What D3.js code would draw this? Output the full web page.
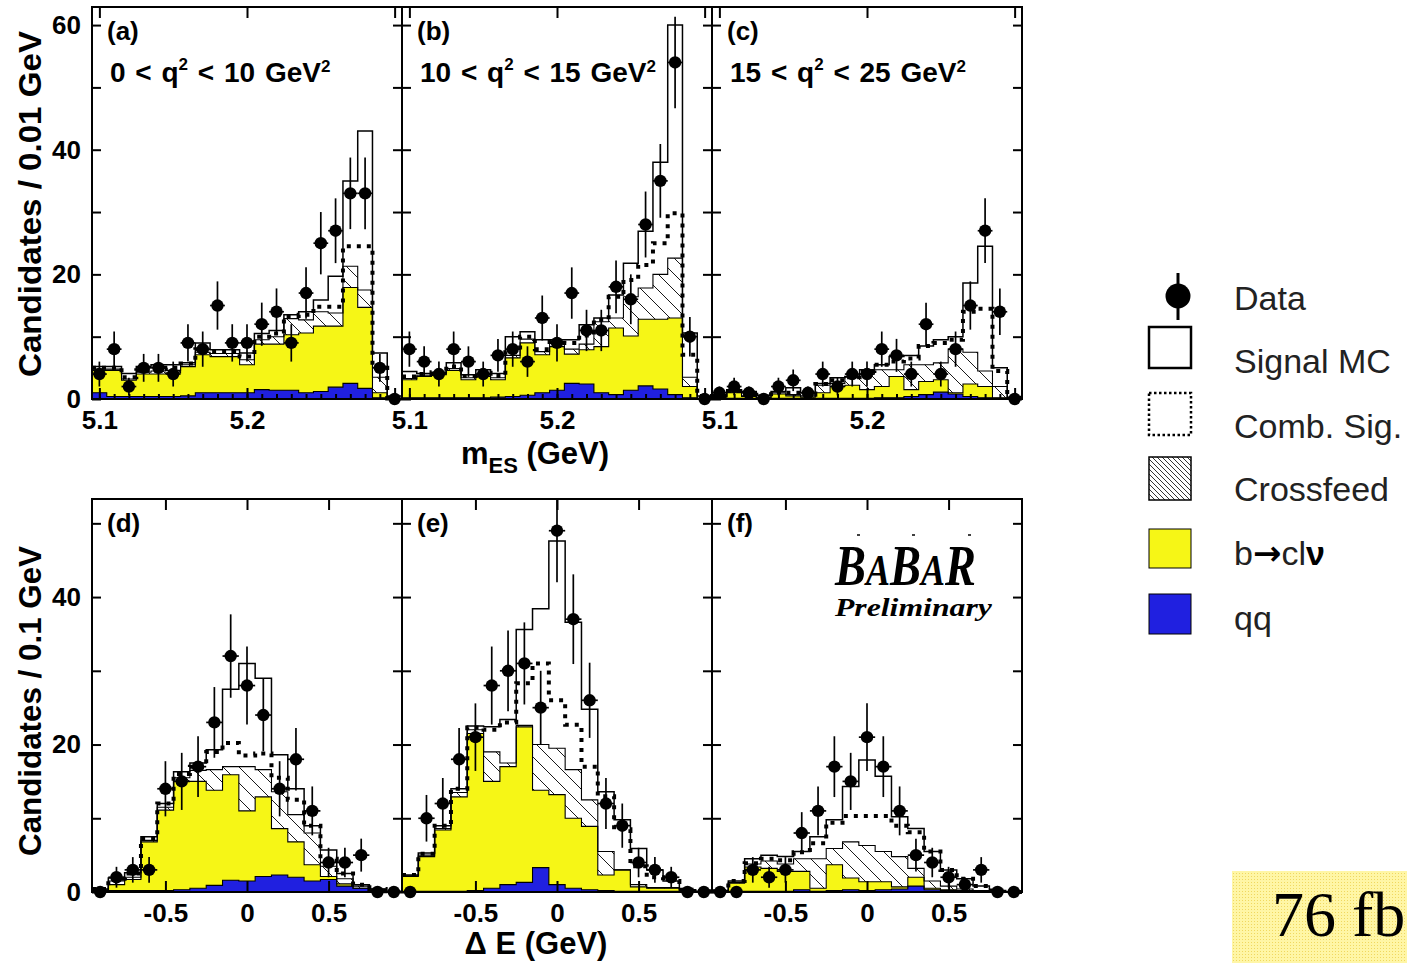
<!DOCTYPE html>
<html>
<head>
<meta charset="utf-8">
<script src="https://cdn.jsdelivr.net/npm/d3@7/dist/d3.min.js"></script>
<style>
body { margin: 0; background: #fff; }
svg { font-family: "Liberation Sans", Arial, Helvetica, sans-serif; }
</style>
</head>
<body>
<svg id="chart" width="1407" height="963"></svg>
<script>
// bin centres
var mesBins = [5.10, 5.11, 5.12, 5.13, 5.14, 5.15, 5.16, 5.17, 5.18, 5.19, 5.20, 5.21, 5.22, 5.23, 5.24, 5.25, 5.26, 5.27, 5.28, 5.29, 5.30];
var deBins = [-0.9, -0.8, -0.7, -0.6, -0.5, -0.4, -0.3, -0.2, -0.1, 0, 0.1, 0.2, 0.3, 0.4, 0.5, 0.6, 0.7, 0.8, 0.9];

var mesTicks = [5.1, 5.2, 5.3];
var deTicks = [-0.5, 0, 0.5];
var yTicksTop = [0, 10, 20, 30, 40, 50, 60];
var yTicksBot = [0, 10, 20, 30, 40, 50];

// (a) 0 < q2 < 10
var dataA = [4, 8, 2, 5, 5, 4, 9, 8, 15, 9, 9, 12, 14, 9, 17, 25, 27, 33, 33, 5, 0];
var qqA = [1.0, 0.4, 0.4, 0.4, 0.4, 0.4, 0.5, 1.0, 1.0, 1.0, 1.0, 1.5, 1.4, 1.4, 1.0, 1.2, 1.9, 2.5, 1.7, 0.2, 0];
var bclnuA = [3.6, 4.2, 2.6, 3.6, 3.6, 3.8, 4.7, 6.1, 5.8, 5.8, 4.5, 7.3, 7.4, 8.9, 9.6, 10.5, 9.8, 15.4, 13.0, 0.8, 0];
var crossA = [0.2, 0.2, 0.2, 0.3, 0.5, 0.4, 0.3, 0.4, 0.5, 0.5, 0.8, 0.7, 1.2, 2.6, 2.1, 2.3, 2.1, 3.4, 2.8, 2.5, 0];
var combA = [0.2, 0.2, 0.3, 0.3, 0.3, 0.4, 0.2, 0.5, 0.3, 0.3, 0.5, 0.5, 0.5, 0.4, 0.8, 0.8, 1.0, 3.2, 7.0, 1.5, 0.1];
var signalA = [0.2, 0.2, 0.6, 0.6, 0.7, 0.5, 0.1, 1.0, 0.3, 0.3, 0.6, 0.5, 0.5, 0.2, 0.5, 1.1, 4.9, 10.5, 18.5, 2.4, 0.4];

// (b) 10 < q2 < 15
var dataB = [8, 6, 4, 8, 6, 4, 7, 8, 6, 13, 9, 17, 11, 11, 18, 16, 28, 35, 54, 10, 0];
var qqB = [0.2, 0.2, 0.2, 0.2, 0.2, 0.2, 0.3, 0.4, 0.6, 1.0, 1.4, 2.5, 2.4, 1.0, 0.7, 1.4, 2.1, 1.6, 0.7, 0.2, 0];
var bclnuB = [2.9, 3.4, 3.7, 4.4, 2.9, 3.4, 2.8, 6.2, 8.4, 6.1, 7.0, 4.7, 5.5, 7.4, 10.7, 8.7, 10.7, 11.2, 12.3, 1.8, 0];
var crossB = [0.2, 0.2, 0.2, 0.3, 0.3, 0.3, 0.3, 0.4, 0.6, 0.5, 0.6, 0.8, 0.9, 4.0, 1.6, 6.3, 5.0, 7.2, 9.6, 1.5, 0];
var combB = [0.3, 0.2, 0.2, 0.3, 0.3, 0.3, 0.3, 0.5, 0.4, 0.4, 0.5, 1.0, 1.4, 0.3, 3.4, 2.7, 3.7, 5.0, 7.2, 3.6, 0.5];
var signalB = [0.8, 0.1, 0, 0.6, 0.2, 0.5, 0.4, 2.5, 0.8, 1.5, 0, 0.5, 1.7, 0.3, 0.3, 2.7, 5.4, 13.0, 30.2, 3.5, 0];

// (c) 15 < q2 < 25
var dataC = [1, 2, 1, 0, 2, 3, 1, 4, 2, 4, 4, 8, 7, 4, 12, 4, 8, 15, 27, 14, 0];
var qqC = [0.1, 0.1, 0.1, 0.1, 0.1, 0.1, 0.1, 0.1, 0.1, 0.1, 0.1, 0.2, 0.2, 0.4, 0.7, 1.1, 0.8, 0.4, 0.2, 0.1, 0];
var bclnuC = [0.2, 0.9, 0.3, 0.1, 0.7, 0.4, 0.2, 0.9, 1.9, 2.1, 1.4, 1.8, 3.4, 1.1, 2.1, 2.0, 0.2, 2.0, 1.8, 0.1, 0];
var crossC = [0.1, 0.1, 0.1, 0.1, 0.2, 0.2, 0.2, 1.2, 0.5, 1.3, 2.5, 2.7, 1.1, 4.0, 2.7, 2.7, 7.0, 5.1, 2.5, 1.8, 0];
var combC = [0.1, 0.2, 0.2, 0.1, 0.1, 0.3, 0.2, 0.2, 0.5, 0, 0.5, 0.8, 1.3, 1.0, 3.0, 3.2, 1.5, 6.5, 10.0, 2.5, 0.2];
var signalC = [0, 0.2, 0.5, 0.2, 0.1, 0.8, 0.3, 0.1, 0.4, 0.1, 0.2, 0, 0.8, 0.5, 0, 0.5, 0.5, 4.6, 10.0, 0.5, 0.1];

// (d)
var dataD = [0, 2, 3, 3, 14, 15, 17, 23, 32, 28, 24, 14, 18, 11, 4, 4, 5, 0, 0];
var qqD = [0.1, 0.2, 0.2, 0.2, 0.2, 0.3, 0.5, 0.9, 1.6, 1.5, 2.1, 2.3, 2.0, 1.5, 1.7, 0.8, 0.5, 0.2, 0];
var bclnuD = [0.1, 0.8, 1.5, 6.6, 10.9, 14.7, 14.5, 12.9, 14.3, 9.5, 10.8, 6.3, 4.8, 2.2, 0.4, 0.3, 0, 0.1, 0];
var crossD = [0.1, 0.5, 0.3, 0.2, 0.4, 0.5, 1.5, 2.8, 1.1, 6.0, 3.7, 5.0, 3.7, 4.3, 1.4, 0.7, 0.3, 0.1, 0];
var combD = [0.1, 0.3, 0.5, 0.3, 0.5, 0.5, 0.5, 2.4, 3.2, 1.5, 2.2, 1.9, 2.0, 1.0, 1.0, 0.7, 0.2, 0, 0.1];
var signalD = [0, 0.1, 0.1, 0.2, 0, 0.3, 0.5, 0.3, 7.3, 12.5, 10.2, 3.1, 1.5, 0, 1.2, 0, 0, 0, 0];

// (e)
var dataE = [0, 10, 12, 18, 21, 28, 30, 31, 25, 49, 37, 26, 12, 9, 4, 3, 2, 0, 0];
var qqE = [0.1, 0.1, 0.1, 0.1, 0.2, 0.5, 1.0, 1.3, 3.3, 1.0, 0.5, 0.3, 0.2, 0.1, 0.1, 0.1, 0.1, 0.1, 0];
var bclnuE = [2.0, 4.7, 8.3, 12.8, 21.3, 14.5, 16.0, 21.1, 10.5, 12.2, 9.5, 8.6, 2.1, 2.9, 0.6, 0.4, 0.4, 0, 0];
var crossE = [0.1, 0.2, 0.2, 0.6, 0.5, 4.0, 0.5, 0.2, 6.2, 6.3, 6.6, 3.6, 3.2, 0, 0.3, 0.1, 0.1, 0.1, 0];
var combE = [0.1, 0.2, 0.4, 0.5, 0.3, 3.0, 5.5, 5.7, 11.0, 6.5, 6.1, 4.5, 7.5, 5.5, 2.5, 1.4, 0.9, 0.1, 0.1];
var signalE = [0, 0.1, 0, 0, 0.2, 0.4, 0.4, 7.3, 7.4, 21.6, 13.9, 7.8, 0.6, 1.3, 2.4, 1.0, 0, 0, 0];

// (f)
var dataF = [0, 0, 3, 2, 3, 8, 11, 17, 15, 21, 17, 11, 5, 4, 2, 1, 3, 0, 0];
var qqF = [0, 0.1, 0.1, 0.1, 0.1, 0.3, 0.1, 0.2, 0.3, 0.2, 0.3, 0.4, 0.8, 0.3, 0.2, 0.1, 0.1, 0.1, 0];
var bclnuF = [0, 1.1, 3.3, 3.1, 2.7, 2.5, 0.4, 3.5, 1.6, 1.2, 1.1, 0.3, 1.2, 0.2, 0.1, 0.1, 0, 0, 0];
var crossF = [0, 0.1, 0.4, 1.0, 1.0, 1.7, 4.0, 2.2, 4.9, 4.9, 4.1, 4.1, 1.2, 1.0, 0.5, 0.2, 0.1, 0, 0];
var combF = [0.1, 0.2, 0.1, 0.3, 0.5, 0.9, 2.1, 3.5, 3.5, 4.0, 4.8, 4.2, 4.9, 4.0, 2.2, 1.4, 0.6, 0.1, 0];
var signalF = [0.1, 0, 0.6, 0.5, 0.5, 0.1, 0.9, 0.4, 4.0, 7.6, 5.4, 1.2, 0.5, 0, 0, 0, 0, 0, 0];

var legendLabels = ['Data', 'Signal MC', 'Comb. Sig.', 'Crossfeed', 'b\u2192cl\u03bd', 'qq'];

var YELLOW = '#f6f616', BLUE = '#2020e0';
var SERIF = '"Liberation Serif", "Times New Roman", serif';
var keys = ['qq', 'bc', 'cf', 'comb', 'sig'];
var panelW = 310, left0 = 92;

var rowCfg = [
    {top: 7, bottom: 399, yMax: 62.9, bins: mesBins, half: 0.005, dom: [5.095, 5.305],
     major: mesTicks, minor: mesBins, yTicks: yTicksTop,
     fmt: function(d){ return d < 5.25 ? d.toFixed(1) : ''; }},
    {top: 499, bottom: 892, yMax: 53.3, bins: deBins, half: 0.05, dom: [-0.95, 0.95],
     major: deTicks, minor: [], yTicks: yTicksBot,
     fmt: function(d){ return String(d); }}
];

var panels = [
    {tag: '(a)', q2: ['0', '10'], row: 0, col: 0, data: dataA, qq: qqA, bc: bclnuA, cf: crossA, comb: combA, sig: signalA},
    {tag: '(b)', q2: ['10', '15'], row: 0, col: 1, data: dataB, qq: qqB, bc: bclnuB, cf: crossB, comb: combB, sig: signalB},
    {tag: '(c)', q2: ['15', '25'], row: 0, col: 2, data: dataC, qq: qqC, bc: bclnuC, cf: crossC, comb: combC, sig: signalC},
    {tag: '(d)', row: 1, col: 0, data: dataD, qq: qqD, bc: bclnuD, cf: crossD, comb: combD, sig: signalD},
    {tag: '(e)', row: 1, col: 1, data: dataE, qq: qqE, bc: bclnuE, cf: crossE, comb: combE, sig: signalE},
    {tag: '(f)', row: 1, col: 2, data: dataF, qq: qqF, bc: bclnuF, cf: crossF, comb: combF, sig: signalF}
];

var svg = d3.select('#chart');
var defs = svg.append('defs');
defs.append('pattern').attr('id', 'hatch').attr('patternUnits', 'userSpaceOnUse')
    .attr('width', 16).attr('height', 16)
    .append('path').attr('d', 'M-4,-4L20,20M-4,12L4,20M12,-4L20,4')
    .attr('stroke', '#000').attr('stroke-width', 0.9);
defs.append('pattern').attr('id', 'hatchDense').attr('patternUnits', 'userSpaceOnUse')
    .attr('width', 5).attr('height', 5)
    .append('path').attr('d', 'M-1,-1L6,6M-1,4L1,6M4,-1L6,1')
    .attr('stroke', '#000').attr('stroke-width', 0.8);
var dots = defs.append('pattern').attr('id', 'dotsBg').attr('patternUnits', 'userSpaceOnUse')
    .attr('width', 3).attr('height', 3);
dots.append('rect').attr('width', 3).attr('height', 3).attr('fill', '#fff6a6');
dots.append('rect').attr('width', 1).attr('height', 1).attr('fill', '#f0d860');
// error bars are cut at the top of each row's frame
rowCfg.forEach(function(r, i) {
    defs.append('clipPath').attr('id', 'clipRow' + i)
        .append('rect').attr('x', 0).attr('y', r.top).attr('width', 1100).attr('height', r.bottom - r.top + 30);
});

function styleAxis(sel, size) {
    sel.attr('font-family', null).attr('font-size', null);
    sel.select('.domain').remove();
    sel.selectAll('.tick line').attr('stroke', '#000').attr('stroke-width', 2);
    sel.selectAll('text').attr('font-size', size).attr('font-weight', 'bold').attr('fill', '#000');
}

panels.forEach(function(p) {
    var r = rowCfg[p.row];
    var x0 = left0 + p.col * panelW;
    var x = d3.scaleLinear().domain(r.dom).range([x0, x0 + panelW]);
    var y = d3.scaleLinear().domain([0, r.yMax]).range([r.bottom, r.top]);
    var g = svg.append('g');

    var rows = r.bins.map(function(c, i) {
        return {c: c, qq: p.qq[i], bc: p.bc[i], cf: p.cf[i], comb: p.comb[i], sig: p.sig[i]};
    });
    var layers = d3.stack().keys(keys)(rows);

    function steps(layer) {
        var pts = [];
        layer.forEach(function(d) {
            pts.push([d.data.c - r.half, d[1]]);
            pts.push([d.data.c + r.half, d[1]]);
        });
        return pts;
    }
    var line = d3.line().x(function(d){ return x(d[0]); }).y(function(d){ return y(d[1]); });
    var area = d3.area().x(function(d){ return x(d[0]); }).y0(y(0)).y1(function(d){ return y(d[1]); });

    // filled components: crossfeed hatch, b->clnu yellow, qq blue
    g.append('path').attr('d', area(steps(layers[2]))).attr('fill', 'url(#hatch)');
    g.append('path').attr('d', area(steps(layers[1]))).attr('fill', YELLOW);
    g.append('path').attr('d', area(steps(layers[0]))).attr('fill', BLUE);

    [0, 1, 2].forEach(function(k) {
        g.append('path').attr('d', line(steps(layers[k])))
            .attr('fill', 'none').attr('stroke', '#000').attr('stroke-width', 1.1);
    });
    g.append('path').attr('d', line(steps(layers[3])))
        .attr('fill', 'none').attr('stroke', '#000').attr('stroke-width', 4)
        .attr('stroke-dasharray', '4,6');
    g.append('path').attr('d', line(steps(layers[4])))
        .attr('fill', 'none').attr('stroke', '#000').attr('stroke-width', 1.5);

    // data points with errors
    var pts = g.append('g').attr('clip-path', 'url(#clipRow' + p.row + ')')
        .selectAll('g').data(p.data).enter().append('g');
    pts.append('line')
        .attr('x1', function(d, i){ return x(r.bins[i]); })
        .attr('x2', function(d, i){ return x(r.bins[i]); })
        .attr('y1', function(d){ return y(d + Math.sqrt(d)); })
        .attr('y2', function(d){ return y(Math.max(0, d - Math.sqrt(d))); })
        .attr('stroke', '#000').attr('stroke-width', 1.7);
    pts.append('line')
        .attr('x1', function(d, i){ return x(r.bins[i] - r.half); })
        .attr('x2', function(d, i){ return x(r.bins[i] + r.half); })
        .attr('y1', function(d){ return y(d); })
        .attr('y2', function(d){ return y(d); })
        .attr('stroke', '#000').attr('stroke-width', 1.7);
    pts.append('circle')
        .attr('cx', function(d, i){ return x(r.bins[i]); })
        .attr('cy', function(d){ return y(d); })
        .attr('r', 6.2).attr('fill', '#000');

    // frame
    g.append('rect').attr('x', x0).attr('y', r.top).attr('width', panelW).attr('height', r.bottom - r.top)
        .attr('fill', 'none').attr('stroke', '#000').attr('stroke-width', 2);

    // axes (inward ticks)
    g.append('g').attr('transform', 'translate(0,' + r.bottom + ')')
        .call(d3.axisBottom(x).tickValues(r.major).tickSize(-11).tickPadding(12).tickFormat(r.fmt))
        .call(styleAxis, 26);
    if (r.minor.length) {
        g.append('g').attr('transform', 'translate(0,' + r.bottom + ')')
            .call(d3.axisBottom(x).tickValues(r.minor).tickSize(-5).tickFormat(''))
            .call(styleAxis, 26);
    }
    g.append('g').attr('transform', 'translate(0,' + r.top + ')')
        .call(d3.axisTop(x).tickValues(r.major).tickSize(-11).tickFormat(''))
        .call(styleAxis, 26);
    g.append('g').attr('transform', 'translate(' + x0 + ',0)')
        .call(d3.axisLeft(y).tickValues(r.yTicks).tickSize(-9).tickPadding(11)
            .tickFormat(function(d){ return p.col === 0 && d % 20 === 0 ? d : ''; }))
        .call(styleAxis, 26);
    g.append('g').attr('transform', 'translate(' + (x0 + panelW) + ',0)')
        .call(d3.axisRight(y).tickValues(r.yTicks).tickSize(-9).tickFormat(''))
        .call(styleAxis, 26);

    // panel labels
    g.append('text').attr('x', x0 + 15).attr('y', r.top + 33)
        .attr('font-size', 26).attr('font-weight', 'bold').text(p.tag);
    if (p.q2) {
        var t = g.append('text').attr('x', x0 + 18).attr('y', 82)
            .attr('font-size', 28).attr('font-weight', 'bold').attr('word-spacing', 2);
        t.append('tspan').text(p.q2[0] + ' < q');
        t.append('tspan').attr('font-size', 17).attr('dy', -12).text('2');
        t.append('tspan').attr('dy', 12).text(' < ' + p.q2[1] + ' GeV');
        t.append('tspan').attr('font-size', 17).attr('dy', -10).text('2');
    }
});

// axis titles
svg.append('text').attr('transform', 'translate(41,204) rotate(-90)').attr('text-anchor', 'middle')
    .attr('font-size', 32).attr('font-weight', 'bold')
    .attr('textLength', 346).attr('lengthAdjust', 'spacingAndGlyphs').text('Candidates / 0.01 GeV');
svg.append('text').attr('transform', 'translate(41,701) rotate(-90)').attr('text-anchor', 'middle')
    .attr('font-size', 32).attr('font-weight', 'bold')
    .attr('textLength', 310).attr('lengthAdjust', 'spacingAndGlyphs').text('Candidates / 0.1 GeV');
var mt = svg.append('text').attr('x', 535).attr('y', 464).attr('text-anchor', 'middle')
    .attr('font-size', 31).attr('font-weight', 'bold');
mt.append('tspan').text('m');
mt.append('tspan').attr('font-size', 22).attr('dy', 9).text('ES');
mt.append('tspan').attr('dy', -9).text(' (GeV)');
svg.append('text').attr('x', 536).attr('y', 954).attr('text-anchor', 'middle')
    .attr('font-size', 31).attr('font-weight', 'bold').text('\u0394 E (GeV)');

// BaBar logo
var logo = svg.append('g');
var bb = logo.append('g').attr('transform', 'translate(835,585) scale(0.8,1)')
    .append('text').attr('x', 0).attr('y', 0)
    .attr('font-family', SERIF).attr('font-style', 'italic').attr('font-weight', 'bold').attr('font-size', 58);
bb.append('tspan').text('B');
bb.append('tspan').attr('font-size', 45).text('A');
bb.append('tspan').text('B');
bb.append('tspan').attr('font-size', 45).text('A');
bb.append('tspan').text('R');
[857, 912, 968].forEach(function(px) {
    logo.append('line').attr('x1', px).attr('x2', px + 3).attr('y1', 535).attr('y2', 535)
        .attr('stroke', '#000').attr('stroke-width', 1.5);
});
logo.append('g').attr('transform', 'translate(835,616) scale(1.22,1)')
    .append('text').attr('x', 0).attr('y', 0)
    .attr('font-family', SERIF).attr('font-style', 'italic').attr('font-weight', 'bold').attr('font-size', 26)
    .text('Preliminary');

// legend
var lg = svg.append('g');
var lx = 1149, lw = 42;
lg.append('line').attr('x1', 1178).attr('x2', 1178).attr('y1', 273).attr('y2', 320)
    .attr('stroke', '#000').attr('stroke-width', 3);
lg.append('circle').attr('cx', 1178).attr('cy', 296).attr('r', 12.5).attr('fill', '#000');
lg.append('rect').attr('x', lx).attr('y', 327).attr('width', lw).attr('height', 41)
    .attr('fill', '#fff').attr('stroke', '#000').attr('stroke-width', 2.5);
lg.append('rect').attr('x', lx).attr('y', 393).attr('width', lw).attr('height', 42)
    .attr('fill', '#fff').attr('stroke', '#000').attr('stroke-width', 2.5).attr('stroke-dasharray', '2.5,2.5');
lg.append('rect').attr('x', lx).attr('y', 457).attr('width', lw).attr('height', 43)
    .attr('fill', 'url(#hatchDense)').attr('stroke', '#000').attr('stroke-width', 1.5);
lg.append('rect').attr('x', lx).attr('y', 529).attr('width', lw).attr('height', 39)
    .attr('fill', YELLOW).attr('stroke', '#000').attr('stroke-width', 1);
lg.append('rect').attr('x', lx).attr('y', 594).attr('width', lw).attr('height', 40)
    .attr('fill', BLUE).attr('stroke', '#000').attr('stroke-width', 1);
var ly = [310, 373, 438, 501, 565, 630];
legendLabels.forEach(function(s, i) {
    var t = lg.append('text').attr('x', 1234).attr('y', ly[i]).attr('font-size', 34).attr('fill', '#222');
    if (i === 4) {
        t.append('tspan').text('b');
        t.append('tspan').attr('font-family', '"DejaVu Sans", sans-serif').attr('font-weight', 'bold')
            .attr('fill', '#000').text('\u2192');
        t.append('tspan').text('cl');
        t.append('tspan').attr('font-weight', 'bold').attr('fill', '#000').text('\u03bd');
    } else {
        t.text(s);
    }
});

// luminosity box
svg.append('rect').attr('x', 1232).attr('y', 871).attr('width', 175).attr('height', 92).attr('fill', 'url(#dotsBg)');
svg.append('text').attr('x', 1272).attr('y', 936)
    .attr('font-family', SERIF).attr('font-size', 64)
    .text('76 fb');
</script>
</body>
</html>
